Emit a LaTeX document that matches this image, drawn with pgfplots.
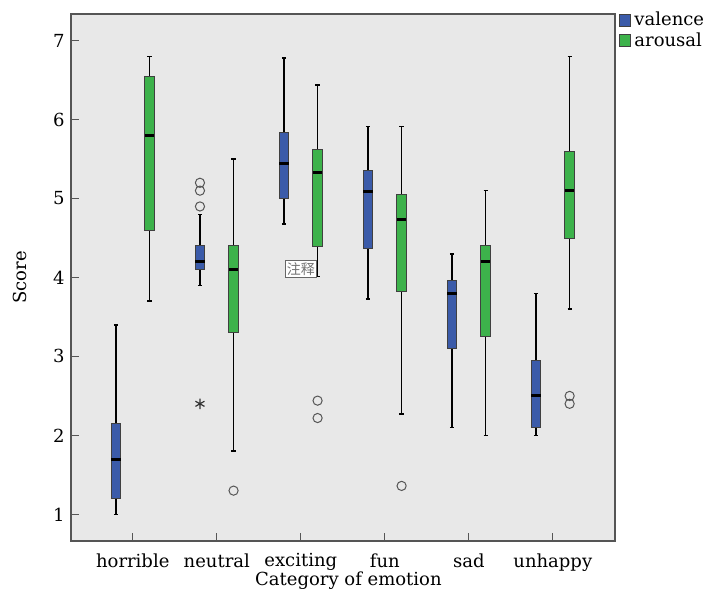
\documentclass[border=0pt]{standalone}
\usepackage{fontspec}
\setmainfont{DejaVu Serif}
\newfontfamily\cjk{Noto Sans CJK SC}
\usepackage{pgfplots}
\pgfplotsset{compat=1.18}
\usepgfplotslibrary{statistics}

\definecolor{valblue}{HTML}{3B5BA9}
\definecolor{arogreen}{HTML}{3DB24B}
\definecolor{plotbg}{HTML}{E8E8E8}
\definecolor{framegray}{HTML}{555555}

\pgfplotsset{
  bx/.style={forget plot, mark=o, mark size=2.3pt,
    mark options={draw=framegray, fill=none, line width=0.5pt, solid},
    boxplot/draw direction=y,
    boxplot/box extend=0.113, boxplot/whisker extend=0.05,
    boxplot/every box/.style={draw=black!75, line width=0.5pt, fill=#1},
    boxplot/every whisker/.style={draw=black, line width=0.75pt},
    boxplot/every median/.style={draw=black, line width=1.5pt}},
}

\begin{document}
\fontsize{9}{10.8}\selectfont
\begin{tikzpicture}
\begin{axis}[name=ax,
  scale only axis, width=272pt, height=263.5pt,
  xmin=-0.735, xmax=5.74, ymin=0.662, ymax=7.338,
  axis background/.style={fill=plotbg},
  axis line style={draw=framegray, line width=0.8pt},
  xtick={0,...,5},
  xticklabels={horrible,neutral,exciting,fun,sad,unhappy},
  ytick={1,...,7},
  tick align=inside, xtick pos=bottom, ytick pos=left,
  major tick length=4pt,
  tick style={draw=framegray, line width=0.6pt},
  xticklabel style={yshift=-3pt},
  /pgf/number format/assume math mode=true,
  xlabel={Category of emotion}, ylabel={Score},
  xlabel style={at={(axis description cs:0.51,0)}, anchor=base, yshift=-22pt},
  ylabel style={at={(axis description cs:-0.094,0.5)}, anchor=center},
  legend style={at={(1.006,1.012)}, anchor=north west, draw=none, fill=none,
    inner sep=0pt, row sep=-2pt, cells={anchor=west}},
  legend image code/.code={\draw[#1, draw=black!75, line width=0.4pt] (0pt,-3pt) rectangle (5.5pt,3pt);},
]
\addlegendimage{fill=valblue}\addlegendentry{valence}
\addlegendimage{fill=arogreen}\addlegendentry{arousal}

% horrible
\addplot[bx=valblue, boxplot prepared={draw position=-0.2,
  lower whisker=1.0, lower quartile=1.2, median=1.7, upper quartile=2.15, upper whisker=3.4}]
  coordinates {};
\addplot[bx=arogreen, boxplot prepared={draw position=0.2,
  lower whisker=3.7, lower quartile=4.6, median=5.8, upper quartile=6.55, upper whisker=6.8}]
  coordinates {};
% neutral
\addplot[bx=valblue, boxplot prepared={draw position=0.8,
  lower whisker=3.9, lower quartile=4.1, median=4.2, upper quartile=4.4, upper whisker=4.8}]
  table[row sep=\\, y index=0] {5.2\\ 5.1\\ 4.9\\};
\addplot[bx=arogreen, boxplot prepared={draw position=1.2,
  lower whisker=1.8, lower quartile=3.3, median=4.1, upper quartile=4.4, upper whisker=5.5}]
  table[row sep=\\, y index=0] {1.3\\};
\addplot[forget plot, only marks, mark=asterisk, mark size=2.6pt,
  mark options={draw=black!80, line width=0.6pt}] coordinates {(0.8,2.4)};
% exciting
\addplot[bx=valblue, boxplot prepared={draw position=1.8,
  lower whisker=4.68, lower quartile=5.0, median=5.45, upper quartile=5.84, upper whisker=6.78}]
  coordinates {};
\addplot[bx=arogreen, boxplot prepared={draw position=2.2,
  lower whisker=4.01, lower quartile=4.39, median=5.33, upper quartile=5.62, upper whisker=6.44}]
  table[row sep=\\, y index=0] {2.44\\ 2.22\\};
% fun
\addplot[bx=valblue, boxplot prepared={draw position=2.8,
  lower whisker=3.73, lower quartile=4.37, median=5.09, upper quartile=5.36, upper whisker=5.91}]
  coordinates {};
\addplot[bx=arogreen, boxplot prepared={draw position=3.2,
  lower whisker=2.27, lower quartile=3.82, median=4.73, upper quartile=5.05, upper whisker=5.91}]
  table[row sep=\\, y index=0] {1.36\\};
% sad
\addplot[bx=valblue, boxplot prepared={draw position=3.8,
  lower whisker=2.1, lower quartile=3.1, median=3.8, upper quartile=3.96, upper whisker=4.3}]
  coordinates {};
\addplot[bx=arogreen, boxplot prepared={draw position=4.2,
  lower whisker=2.0, lower quartile=3.25, median=4.2, upper quartile=4.4, upper whisker=5.1}]
  coordinates {};
% unhappy
\addplot[bx=valblue, boxplot prepared={draw position=4.8,
  lower whisker=2.0, lower quartile=2.1, median=2.5, upper quartile=2.95, upper whisker=3.8}]
  coordinates {};
\addplot[bx=arogreen, boxplot prepared={draw position=5.2,
  lower whisker=3.6, lower quartile=4.5, median=5.1, upper quartile=5.6, upper whisker=6.8}]
  table[row sep=\\, y index=0] {2.5\\ 2.4\\};

\node[draw=black!60, fill=white, inner sep=0.9pt, text=black!55,
  font=\cjk\fontsize{7}{8}\selectfont] at (axis cs:2,4.11) {注释};
\end{axis}
\pgfresetboundingbox
\path ([shift={(-35.5pt,-25pt)}]ax.south west) rectangle ([shift={(44pt,7pt)}]ax.north east);
\end{tikzpicture}
\end{document}
